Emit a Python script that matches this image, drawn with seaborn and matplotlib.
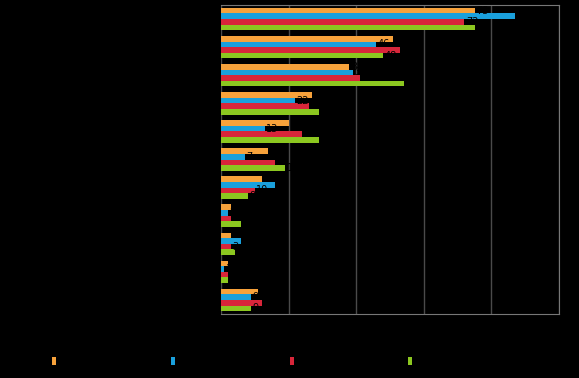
import numpy as np
import pandas as pd
import seaborn as sns
import matplotlib.pyplot as plt

# data (percent), 11 groups x 4 series
categories = ['Cat 1', 'Cat 2', 'Cat 3', 'Cat 4', 'Cat 5', 'Cat 6',
              'Cat 7', 'Cat 8', 'Cat 9', 'Cat 10', 'Cat 11']
series = ['Series 1', 'Series 2', 'Series 3', 'Series 4']
orange = [75, 51, 38, 27, 20, 14, 12, 3, 3, 2, 11]
blue = [87, 46, 39, 22, 13, 7, 16, 2, 6, 1, 9]
red = [72, 53, 41, 26, 24, 16, 10, 3, 3, 2, 12]
green = [75, 48, 54, 29, 29, 19, 8, 6, 4, 2, 9]
colors = ['#f7a23b', '#1aa0dc', '#d8263a', '#8cc720']

# long form table for seaborn
df = pd.DataFrame({
    'category': categories * 4,
    'series': np.repeat(series, len(categories)),
    'value': orange + blue + red + green,
})

fig = plt.figure(figsize=(5.79, 3.78), dpi=100, facecolor='black')
ax = fig.add_axes([221 / 579, 1 - 314 / 378, 338 / 579, 309 / 378])
ax.set_facecolor('black')

sns.barplot(data=df, y='category', x='value', hue='series', orient='h',
            palette=colors, width=0.8, ax=ax, saturation=1, legend=True)

for c in ax.containers:
    ax.bar_label(c, fmt='%.0f', padding=1, color='black', fontsize=7)

ax.set_xlim(0, 100)
ax.set_xticks([0, 20, 40, 60, 80, 100])
ax.grid(axis='x', color='#4a4a4a', linewidth=1)
ax.set_axisbelow(True)
ax.tick_params(colors='black', labelcolor='black', length=0, labelsize=8)
ax.set_xlabel('')
ax.set_ylabel('')
for side in ['top', 'right', 'bottom', 'left']:
    ax.spines[side].set_color('#777777')
ax.spines['left'].set_visible(False)

handles, labels = ax.get_legend_handles_labels()
ax.get_legend().remove()
leg = fig.legend(handles, labels, loc='center left', bbox_to_anchor=(42 / 579, 1 - 362 / 378),
                 ncol=4, frameon=False, handlelength=0.35, handleheight=0.7,
                 columnspacing=5.8, handletextpad=0.5, fontsize=8)
for t in leg.get_texts():
    t.set_color('black')

fig.savefig('out.png', dpi=100, facecolor='black')
